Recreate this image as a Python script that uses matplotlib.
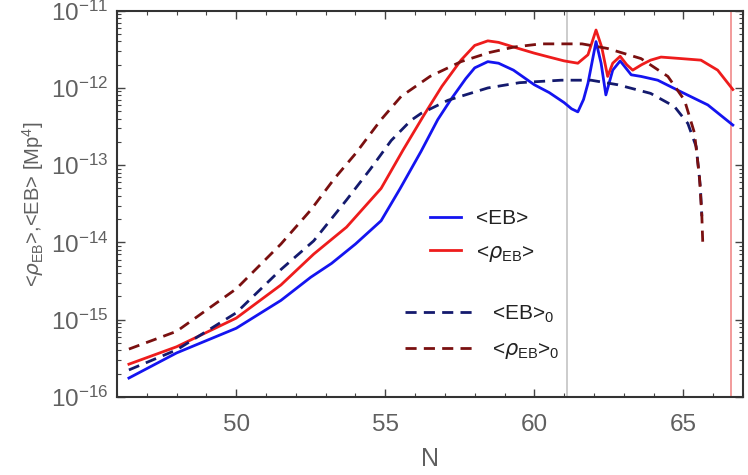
import matplotlib
matplotlib.use("Agg")
import matplotlib.pyplot as plt
from matplotlib.ticker import MultipleLocator, LogLocator, NullFormatter, FixedLocator
from matplotlib.lines import Line2D

plt.rcParams["font.family"] = ["Liberation Sans", "DejaVu Sans"]
plt.rcParams["mathtext.fontset"] = "custom"
plt.rcParams["mathtext.rm"] = "Liberation Sans"
plt.rcParams["mathtext.it"] = "DejaVu Sans:italic"

# <EB>  (solid blue)
n_eb = [46.4, 48, 50, 51.5, 52.5, 53.2, 54.0, 54.86, 55.5, 56.2, 56.76, 57.2, 57.7, 58.0,
        58.44, 58.8, 59.3, 60.0, 60.5, 61.0, 61.25, 61.46, 61.65, 61.8, 62.07, 62.24, 62.4,
        62.63, 62.88, 63.25, 63.58, 64.14, 64.92, 65.82, 66.66]
eb = [1.76e-16, 3.72e-16, 7.76e-16, 1.78e-15, 3.55e-15, 5.37e-15, 9.55e-15, 1.91e-14, 5.0e-14,
      1.51e-13, 3.89e-13, 7.08e-13, 1.32e-12, 1.82e-12, 2.19e-12, 2.09e-12, 1.70e-12, 1.10e-12,
      8.71e-13, 6.46e-13, 5.37e-13, 4.90e-13, 7.08e-13, 1.15e-12, 3.98e-12, 2.09e-12, 8.13e-13,
      1.70e-12, 2.24e-12, 1.48e-12, 1.41e-12, 1.26e-12, 8.91e-13, 6.03e-13, 3.31e-13]

# <rho_EB>  (solid red)
n_rho = [46.4, 48, 50, 51.5, 52.6, 53.7, 54.86, 55.6, 56.3, 56.9, 57.54, 58.0, 58.44, 58.8,
         59.3, 60.0, 60.5, 61.0, 61.46, 61.8, 62.07, 62.26, 62.46, 62.63, 62.88, 63.1, 63.3,
         63.6, 63.9, 64.25, 64.92, 65.59, 66.15, 66.66]
rho = [2.66e-16, 4.47e-16, 1.05e-15, 2.82e-15, 7.08e-15, 1.58e-14, 5.01e-14, 1.58e-13, 4.47e-13,
       1.05e-12, 2.29e-12, 3.55e-12, 4.07e-12, 3.89e-12, 3.39e-12, 2.82e-12, 2.51e-12, 2.24e-12,
       2.09e-12, 2.69e-12, 5.62e-12, 3.39e-12, 1.41e-12, 2.09e-12, 2.57e-12, 2.0e-12, 1.70e-12,
       2.0e-12, 2.29e-12, 2.51e-12, 2.40e-12, 2.29e-12, 1.70e-12, 9.55e-13]

# <EB>_0  (dashed navy)
n_eb0 = [46.4, 48, 50, 51.5, 52.6, 53.7, 54.5, 55.2, 55.86, 56.2, 57.1, 58.44, 59.5, 60.9,
         61.9, 62.8, 63.9, 64.7, 65.15, 65.43, 65.57, 65.62]
eb0 = [2.24e-16, 4.07e-16, 1.23e-15, 4.47e-15, 1.05e-14, 3.55e-14, 8.91e-14, 2.09e-13, 3.80e-13,
       4.68e-13, 6.92e-13, 1.0e-12, 1.17e-12, 1.26e-12, 1.26e-12, 1.10e-12, 8.51e-13, 5.75e-13,
       3.47e-13, 1.74e-13, 5.25e-14, 2.19e-14]

# <rho_EB>_0  (dashed dark red)
n_rho0 = [46.4, 48, 50, 51.5, 52.5, 53.3, 54.0, 54.86, 55.53, 56.5, 57.54, 58.5, 59.33, 60.22,
          61.6, 62.46, 63.58, 64.48, 65.04, 65.37, 65.54, 65.62, 65.65]
rho0 = [4.17e-16, 7.08e-16, 2.51e-15, 9.55e-15, 2.63e-14, 6.76e-14, 1.41e-13, 3.89e-13, 7.76e-13,
        1.41e-12, 2.19e-12, 2.88e-12, 3.39e-12, 3.72e-12, 3.72e-12, 3.24e-12, 2.40e-12, 1.41e-12,
        6.92e-13, 2.63e-13, 7.08e-14, 2.19e-14, 1.0e-14]

n_grey = 61.1
n_red = 66.6
y_ticks = [1e-16, 1e-15, 1e-14, 1e-13, 1e-12, 1e-11]

blue = "#1414f0"
red = "#ee1c1c"
navy = "#141a6e"
darkred = "#7a1010"
grey_txt = "#606060"

fig = plt.figure(figsize=(7.48, 4.75), dpi=100)
ax = fig.add_axes([0.1564, 0.1642, 0.8369, 0.8133])

ax.axvline(n_grey, color="#c4c4c4", lw=1.2, zorder=1)
ax.axvline(n_red, color="#f08a8a", lw=1.2, zorder=1)

ax.plot(n_eb, eb, color=blue, lw=2.0)
ax.plot(n_rho, rho, color=red, lw=2.0)
ax.plot(n_eb0, eb0, color=navy, lw=2.0, dashes=(4, 2.6))
ax.plot(n_rho0, rho0, color=darkred, lw=2.0, dashes=(4, 2.6))

ax.set_yscale("log")
ax.set_xlim(46, 67)
ax.set_ylim(1e-16, 1e-11)

ax.xaxis.set_major_locator(MultipleLocator(5))
ax.xaxis.set_minor_locator(MultipleLocator(1))
ax.yaxis.set_major_locator(FixedLocator(y_ticks))
ax.yaxis.set_minor_locator(LogLocator(base=10, subs=range(2, 10), numticks=50))
ax.yaxis.set_minor_formatter(NullFormatter())

ax.tick_params(which="both", direction="in", top=True, right=True, colors="#444444",
               labelcolor=grey_txt, labelsize=17.5)
ax.tick_params(which="major", length=6, width=1)
ax.tick_params(which="minor", length=3, width=0.8)
ax.tick_params(axis="x", pad=12)
ax.tick_params(axis="y", pad=6)
for s in ax.spines.values():
    s.set_color("#333333")
    s.set_linewidth(1.5)

ax.set_xlabel("N", fontsize=18, color=grey_txt, labelpad=8)
ax.set_ylabel(r"<$\rho_{\mathrm{EB}}$>,<EB> [Mp$^4$]", fontsize=14.5, color=grey_txt, labelpad=4)

h1 = [Line2D([], [], color=blue, lw=2.0), Line2D([], [], color=red, lw=2.0)]
leg1 = ax.legend(h1, ["<EB>", r"<$\rho_{\mathrm{EB}}$>"], loc="upper left",
                 bbox_to_anchor=(0.47, 0.535), frameon=False, fontsize=15,
                 handlelength=1.5, handletextpad=0.7, labelspacing=0.7)
for t in leg1.get_texts():
    t.set_color("#222222")
ax.add_artist(leg1)

h2 = [Line2D([], [], color=navy, lw=2.0, dashes=(4, 2.6)),
      Line2D([], [], color=darkred, lw=2.0, dashes=(4, 2.6))]
leg2 = ax.legend(h2, [r"<EB>$_0$", r"<$\rho_{\mathrm{EB}}$>$_0$"], loc="upper left",
                 bbox_to_anchor=(0.43, 0.29), frameon=False, fontsize=15,
                 handlelength=3.3, handletextpad=0.9, labelspacing=0.7)
for t in leg2.get_texts():
    t.set_color("#222222")

fig.savefig("out.png", dpi=100)
